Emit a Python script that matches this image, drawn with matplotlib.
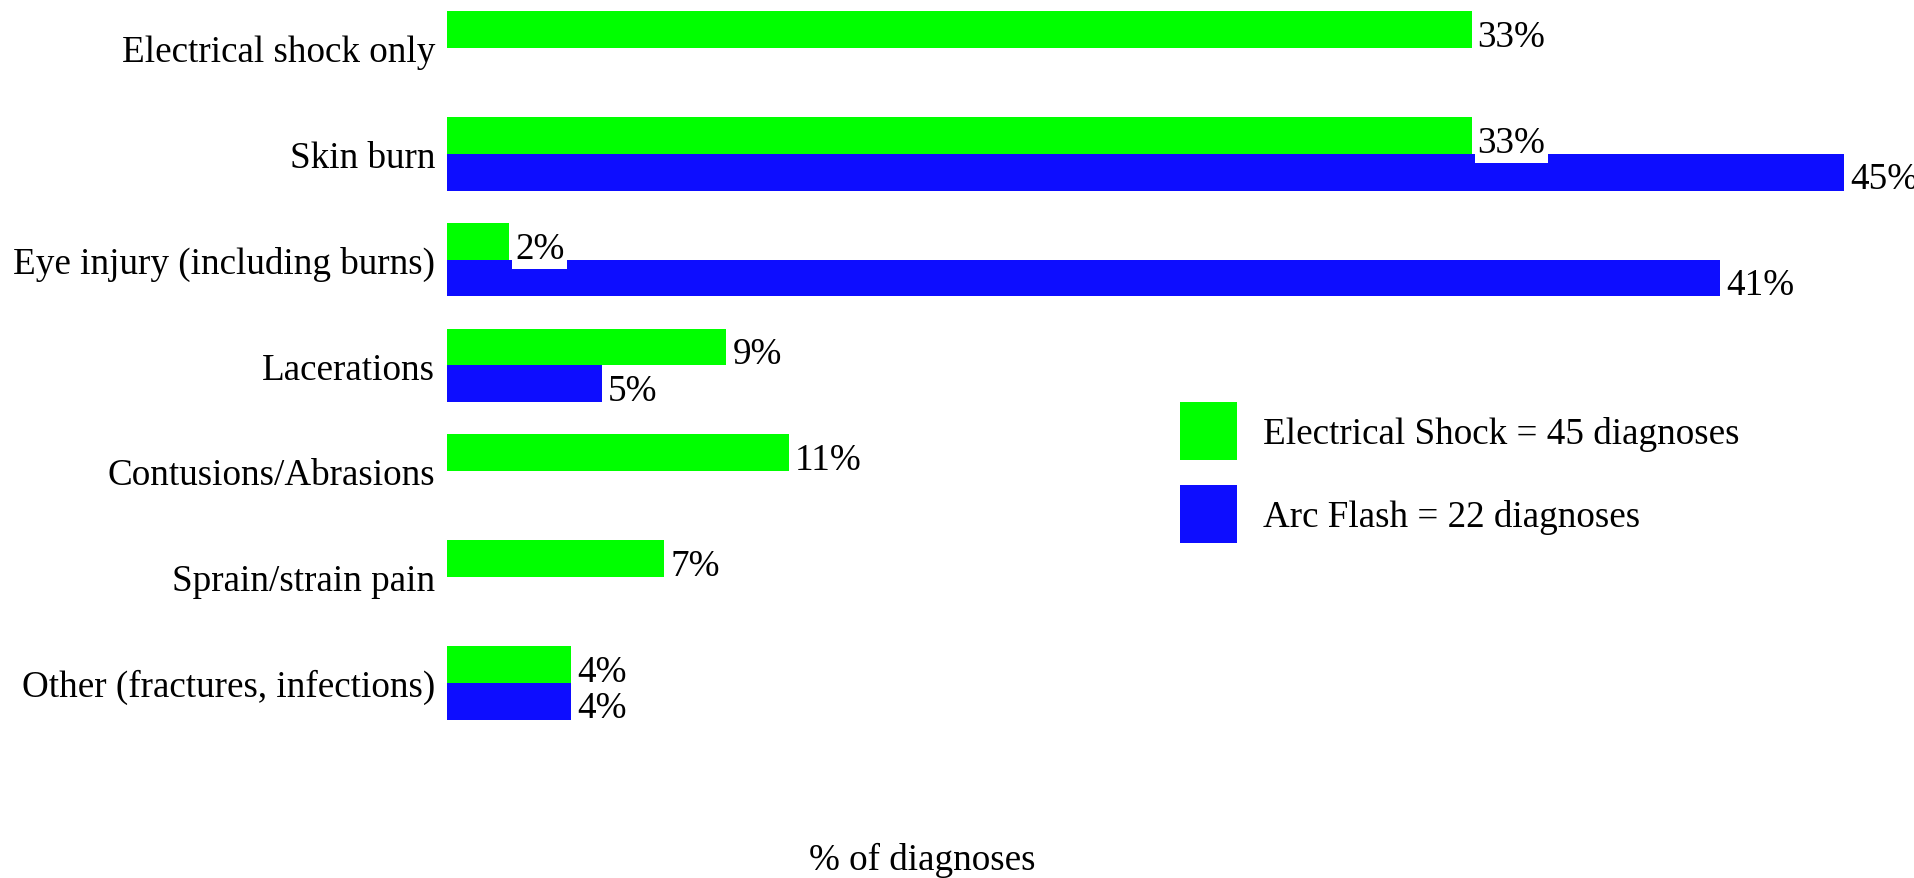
import matplotlib
matplotlib.use("Agg")
import matplotlib.pyplot as plt

# --------- DATA ----------
CATEGORIES = [
    "Electrical shock only",
    "Skin burn",
    "Eye injury (including burns)",
    "Lacerations",
    "Contusions/Abrasions",
    "Sprain/strain pain",
    "Other (fractures, infections)",
]
SHOCK_PCT = [33, 33, 2, 9, 11, 7, 4]
ARC_PCT = [0, 45, 41, 5, 0, 0, 4]
SHOCK_LABEL = "Electrical Shock = 45 diagnoses"
ARC_LABEL = "Arc Flash = 22 diagnoses"
# -------------------------

GREEN = "#00FF00"
BLUE = "#0D0DFF"
W, H, DPI = 1915, 879, 100
FS = 26.7
BAR_H = 0.347

plt.rcParams["font.family"] = ["Liberation Serif", "DejaVu Serif"]
plt.rcParams["font.size"] = FS

fig = plt.figure(figsize=(W / DPI, H / DPI), dpi=DPI)
ax = fig.add_axes([447 / W, 0, 1468 / W, 1])

ypos = list(range(len(CATEGORIES)))
green_y = [y - BAR_H / 2 for y in ypos]
blue_y = [y + BAR_H / 2 for y in ypos]

g = ax.barh(green_y, SHOCK_PCT, height=BAR_H, color=GREEN, label=SHOCK_LABEL, zorder=2)
b = ax.barh(blue_y, ARC_PCT, height=BAR_H, color=BLUE, label=ARC_LABEL, zorder=2)

# value labels with a white box behind them
for ys, vals in ((green_y, SHOCK_PCT), (blue_y, ARC_PCT)):
    for y, v in zip(ys, vals):
        if v == 0:
            continue
        ax.annotate(f"{v}%", xy=(v, y), xytext=(4.3, -2.2), textcoords="offset points",
                    ha="left", va="center_baseline", fontsize=FS, zorder=5,
                    bbox=dict(boxstyle="square,pad=0.08", fc="white", ec="none"))

ax.set_xlim(0, 1468 / 31.05)
ax.set_ylim(830 / 105.8, -49 / 105.8)
ax.set_yticks(ypos)
ax.set_yticklabels(CATEGORIES)
ax.tick_params(axis="y", length=0, pad=8.5, labelsize=FS)
ax.set_xticks([])
for s in ax.spines.values():
    s.set_visible(False)
ax.patch.set_alpha(0)

ax.legend(handles=[g, b], loc="upper left",
          bbox_to_anchor=(1180 / W, 1 - 403 / H), bbox_transform=fig.transFigure,
          frameon=False, borderpad=0, borderaxespad=0,
          handlelength=1.55, handleheight=2.05, handletextpad=0.68,
          labelspacing=0.65, fontsize=FS)

fig.text(922 / W, 1 - 870 / H, "% of diagnoses", ha="center", va="baseline", fontsize=FS)

fig.savefig("out.png", dpi=DPI)
